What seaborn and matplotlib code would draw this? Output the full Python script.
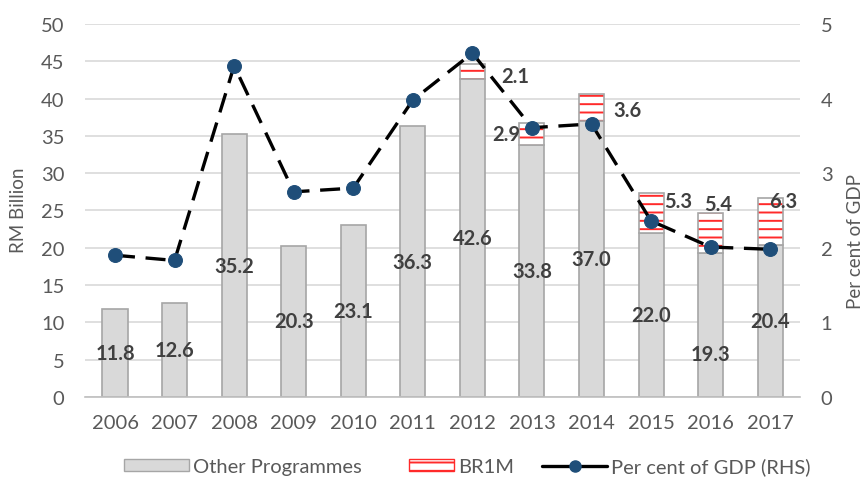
import numpy as np
import pandas as pd
import matplotlib
matplotlib.use("Agg")
import matplotlib.pyplot as plt
from matplotlib.patches import Rectangle, Patch
from matplotlib.lines import Line2D
from matplotlib.legend_handler import HandlerPatch
import seaborn as sns

# ---- data -------------------------------------------------------------
years = ["2006", "2007", "2008", "2009", "2010", "2011",
         "2012", "2013", "2014", "2015", "2016", "2017"]
other_programmes = [11.8, 12.6, 35.2, 20.3, 23.1, 36.3,
                    42.6, 33.8, 37.0, 22.0, 19.3, 20.4]
br1m = [0, 0, 0, 0, 0, 0, 2.1, 2.9, 3.6, 5.3, 5.4, 6.3]
gdp_share = [1.90, 1.83, 4.44, 2.75, 2.80, 3.98,
             4.61, 3.61, 3.66, 2.36, 2.01, 1.98]

# ---- styling ----------------------------------------------------------
sns.set_theme(style="white")
plt.rcParams["font.family"] = ["Lato", "DejaVu Sans"]
plt.rcParams["hatch.linewidth"] = 1.4

TICK_GREY = "#595959"
LABEL_DARK = "#404040"
BAR_GREY = "#d9d9d9"
EDGE_GREY = "#a6a6a6"
RED = "#ff2a2a"
NAVY = "#1f4e79"
FS = 14.5

# label layout (offsets in category units / data units)
other_label_frac = [0.5] * 12
other_label_frac[10] = 0.30
br1m_dx = [0, 0, 0, 0, 0, 0, 0.72, -0.43, 0.61, 0.45, 0.12, 0.22]
br1m_dy = [0, 0, 0, 0, 0, 0, -0.65, 0.05, -0.3, 1.65, 3.9, 2.75]

df = pd.DataFrame({"year": years, "other": other_programmes,
                   "br1m": br1m, "gdp": gdp_share})
pos = np.arange(len(years))
BAR_W = 0.42

fig = plt.figure(figsize=(8.67, 4.85), dpi=100)
ax = fig.add_axes([0.0983, 0.1794, 0.8244, 0.7691])

# grey bars for other programmes
sns.barplot(data=df, x="year", y="other", ax=ax, color=BAR_GREY,
            saturation=1, width=BAR_W, edgecolor=EDGE_GREY, linewidth=1.2,
            zorder=2)

# BR1M stacked on top: red horizontal hatch on white, grey outline
mask = df["br1m"] > 0
ax.bar(pos[mask], df["br1m"][mask], bottom=df["other"][mask], width=BAR_W,
       color="white", edgecolor=RED, hatch="--", linewidth=0, zorder=2)
ax.bar(pos[mask], df["br1m"][mask], bottom=df["other"][mask], width=BAR_W,
       facecolor="none", edgecolor=EDGE_GREY, linewidth=1.2, zorder=3)

ax.set_xlim(-0.5, len(years) - 0.5)
ax.set_ylim(0, 50)
ax.set_yticks(np.arange(0, 51, 5))
ax.yaxis.grid(True, color="#d9d9d9", linewidth=1.2, zorder=0)
ax.set_axisbelow(True)
for side in ["top", "right", "left"]:
    ax.spines[side].set_visible(False)
ax.spines["bottom"].set_color("#bfbfbf")
ax.spines["bottom"].set_linewidth(1.2)
ax.tick_params(axis="both", length=0, labelsize=FS, colors=TICK_GREY)
ax.tick_params(axis="y", pad=15)
ax.tick_params(axis="x", pad=12)
ax.set_xlabel("")
ax.set_ylabel("RM Billion", fontsize=13.5, color=TICK_GREY)
ax.yaxis.set_label_coords(-0.081, 0.504)

# data labels
for i, v in enumerate(other_programmes):
    ax.text(i, v * other_label_frac[i], f"{v:.1f}", ha="center", va="center",
            fontsize=FS, fontweight="bold", color=LABEL_DARK, zorder=6)
for i, v in enumerate(br1m):
    if v > 0:
        y = other_programmes[i] + v / 2 + br1m_dy[i]
        ax.text(i + br1m_dx[i], y, f"{v:.1f}", ha="center", va="center",
                fontsize=FS, fontweight="bold", color=LABEL_DARK, zorder=6)

# per cent of GDP on the right axis
ax2 = ax.twinx()
sns.lineplot(x=pos, y=gdp_share, ax=ax2, color="black", linewidth=2.4,
             linestyle=(0, (6, 3.2)), marker="o", markersize=10,
             markerfacecolor=NAVY, markeredgecolor=NAVY, zorder=5)
ax2.set_ylim(0, 5)
ax2.set_yticks(np.arange(0, 6, 1))
ax2.set_xlim(-0.5, len(years) - 0.5)
for side in ["top", "right", "left", "bottom"]:
    ax2.spines[side].set_visible(False)
ax2.tick_params(axis="y", length=0, labelsize=FS, colors=TICK_GREY, pad=15)
ax2.set_ylabel("Per cent of GDP", fontsize=13.5, color=TICK_GREY)
ax2.yaxis.set_label_coords(1.066, 0.42)


# legend
def small_patch(legend, orig_handle, xdescent, ydescent, width, height, fontsize):
    w = width * 0.7
    return Rectangle((width - w - xdescent, -ydescent), w, height,
                     facecolor="white", edgecolor=RED, hatch="--", linewidth=0)


h_other = Patch(facecolor=BAR_GREY, edgecolor=EDGE_GREY, linewidth=1.0)
h_br1m = Patch(facecolor="white", edgecolor=RED, hatch="--")
h_gdp = Line2D([], [], color="black", linewidth=2.4, marker="o", markersize=8,
               markerfacecolor=NAVY, markeredgecolor=NAVY)
leg = fig.legend([h_other, h_br1m, h_gdp],
                 ["Other Programmes", "BR1M", "Per cent of GDP (RHS)"],
                 loc="center", bbox_to_anchor=(0.539, 0.036), ncol=3,
                 frameon=False, fontsize=FS, handlelength=3.2,
                 handleheight=0.55, handletextpad=0.2, columnspacing=1.4,
                 handler_map={h_br1m: HandlerPatch(patch_func=small_patch)})
for t in leg.get_texts():
    t.set_color(TICK_GREY)

fig.savefig("out.png", dpi=100)
